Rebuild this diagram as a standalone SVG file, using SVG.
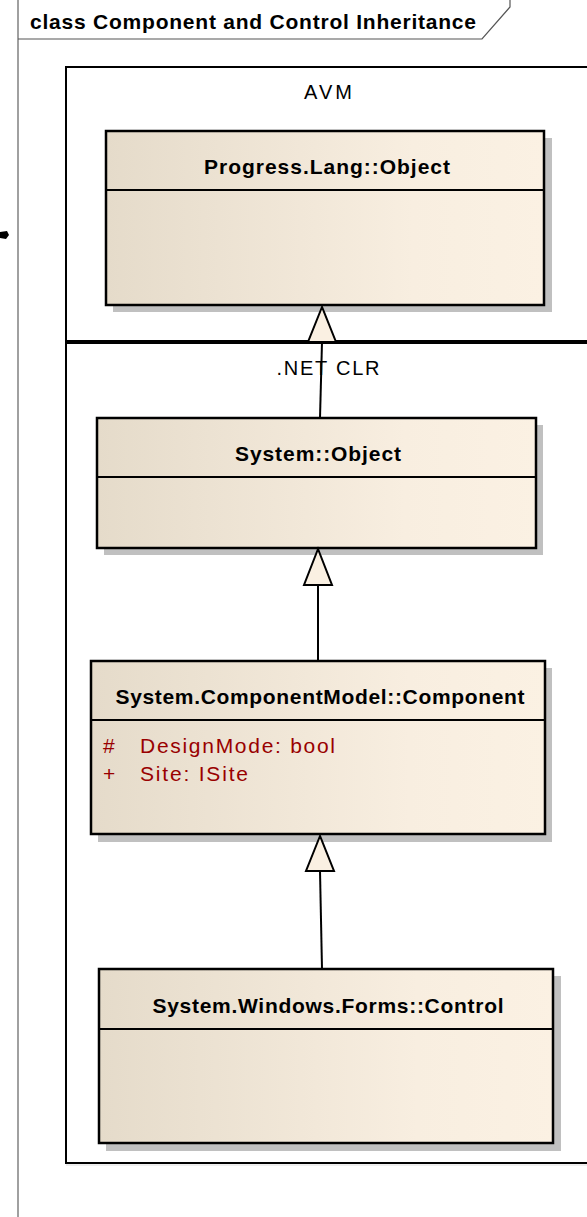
<svg xmlns="http://www.w3.org/2000/svg" width="587" height="1217" viewBox="0 0 587 1217">
<style>
.frame{fill:none;stroke:#555;stroke-width:1.2}
.bnd{fill:none;stroke:#000;stroke-width:2}
.shadow{fill:#c0c0c0}
.box{fill:url(#g);stroke:#000;stroke-width:2.5}
.div{stroke:#000;stroke-width:2}
.title{font-family:"Liberation Sans",Arial,sans-serif;font-weight:bold;font-size:21px;fill:#000}
.lbl{font-family:"Liberation Sans",Arial,sans-serif;font-size:20px;fill:#000}
.attr{font-family:"Liberation Sans",Arial,sans-serif;font-size:21px;fill:#990000}
.conn line{stroke:#000;stroke-width:2}
.conn polygon{fill:#faf0e2;stroke:#000;stroke-width:2;stroke-linejoin:miter}
</style>
<defs>
<linearGradient id="g" x1="0" y1="0" x2="1" y2="0">
<stop offset="0" stop-color="#e5dbca"/>
<stop offset="0.7" stop-color="#f8eee0"/>
<stop offset="1" stop-color="#fbf1e3"/>
</linearGradient>
</defs>
<rect x="0" y="0" width="587" height="1217" fill="#fff"/>
<g id="frame">
<line x1="18" y1="0" x2="18" y2="1217" stroke="#808080" stroke-width="1.5"/>
<polyline class="frame" points="18,39 482,39 510,7 510,0"/>
<text class="title" x="30" y="29" textLength="446" lengthAdjust="spacing">class Component and Control Inheritance</text>
<path d="M0,232 L7,231 L9,235 L6,239 L0,238 Z" fill="#000"/>
</g>
<g id="avm">
<rect class="bnd" x="66" y="67" width="540" height="274"/>
<text class="lbl" x="328" y="99" text-anchor="middle" textLength="48" lengthAdjust="spacing">AVM</text>
</g>
<g id="netclr">
<rect class="bnd" x="66" y="343" width="540" height="820"/>
<line x1="66" y1="1165" x2="587" y2="1165" stroke="#ddd" stroke-width="1"/>
<text class="lbl" x="328" y="375" text-anchor="middle" textLength="103" lengthAdjust="spacing">.NET CLR</text>
</g>
<g id="progress-object">
<rect class="shadow" x="113" y="138" width="439" height="174"/>
<rect class="box" x="106" y="131" width="438" height="174"/>
<line class="div" x1="106" y1="190" x2="544" y2="190"/>
<text class="title" x="327" y="174" text-anchor="middle" textLength="246" lengthAdjust="spacing">Progress.Lang::Object</text>
</g>
<g id="system-object">
<rect class="shadow" x="104" y="425" width="439" height="130"/>
<rect class="box" x="97" y="418" width="439" height="130"/>
<line class="div" x1="97" y1="477" x2="536" y2="477"/>
<text class="title" x="318" y="461" text-anchor="middle" textLength="166" lengthAdjust="spacing">System::Object</text>
</g>
<g id="component">
<rect class="shadow" x="98" y="668" width="454" height="174"/>
<rect class="box" x="91" y="661" width="454" height="173"/>
<line class="div" x1="91" y1="720" x2="545" y2="720"/>
<text class="title" x="320" y="704" text-anchor="middle" textLength="409" lengthAdjust="spacing">System.ComponentModel::Component</text>
<text class="attr" x="103" y="753">#</text>
<text class="attr" x="140" y="753" textLength="195" lengthAdjust="spacing">DesignMode:  bool</text>
<text class="attr" x="103" y="781">+</text>
<text class="attr" x="140" y="781" textLength="108" lengthAdjust="spacing">Site:  ISite</text>
</g>
<g id="control">
<rect class="shadow" x="106" y="976" width="455" height="175"/>
<rect class="box" x="99" y="969" width="454" height="174"/>
<line class="div" x1="99" y1="1029" x2="553" y2="1029"/>
<text class="title" x="328" y="1013" text-anchor="middle" textLength="351" lengthAdjust="spacing">System.Windows.Forms::Control</text>
</g>
<g id="connectors" class="conn">
<line x1="320" y1="418" x2="322" y2="342"/>
<polygon points="322,307 308,342 336,342"/>
<line x1="318" y1="660" x2="318" y2="585"/>
<polygon points="318,549 304,585 332,585"/>
<line x1="322" y1="969" x2="320" y2="871"/>
<polygon points="320,836 306,871 334,871"/>
</g>
</svg>
